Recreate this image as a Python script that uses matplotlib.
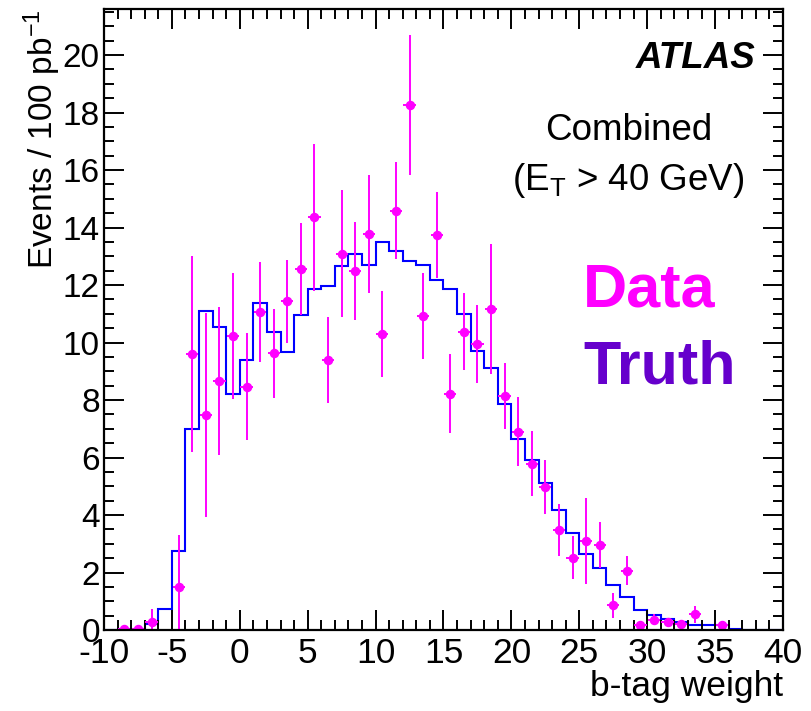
import numpy as np
import matplotlib
matplotlib.use("Agg")
import matplotlib.pyplot as plt
from matplotlib.ticker import MultipleLocator

plt.rcParams['font.family'] = ['Liberation Sans', 'DejaVu Sans']
plt.rcParams['mathtext.fontset'] = 'custom'
plt.rcParams['mathtext.rm'] = 'Liberation Sans'
plt.rcParams['mathtext.it'] = 'Liberation Sans:italic'
plt.rcParams['mathtext.bf'] = 'Liberation Sans:bold'
plt.rcParams['axes.unicode_minus'] = False

# b-tag weight binning: 1 unit bins from -10 to 40
bin_edges = np.arange(-10, 41, 1)

# truth (MC) histogram contents per bin
truth = [0.0, 0.03, 0.05, 0.22, 0.74, 2.76, 7.0, 11.09, 10.53, 8.2,
         9.4, 11.38, 10.36, 9.66, 10.96, 11.87, 11.96, 12.65, 13.09, 12.69,
         13.5, 13.17, 12.83, 12.71, 12.16, 11.85, 11.0, 9.71, 9.13, 7.87,
         6.65, 5.9, 5.13, 4.18, 3.39, 2.66, 2.16, 1.56, 1.15, 0.68,
         0.51, 0.39, 0.27, 0.16, 0.16, 0.16, 0.04, 0.0, 0.0, 0.0]

# data per bin (nan = empty bin, not drawn) and its stat. error
nan = np.nan
data = [nan, 0.05, 0.05, 0.27, nan, 1.5, 9.6, 7.47, 8.67, 10.22,
        8.47, 11.06, 9.63, 11.43, 12.57, 14.35, 9.4, 13.09, 12.48, 13.77,
        10.3, 14.59, 18.26, 10.92, 13.73, 8.22, 10.38, 9.95, 11.17, 8.14,
        6.9, 5.79, 4.97, 3.48, 2.52, 3.1, 2.95, 0.86, 2.06, 0.16,
        0.36, 0.27, 0.22, 0.54, nan, 0.16, nan, nan, nan, nan]
data_err = [0.0, 0.1, 0.1, 0.47, 0.0, 1.8, 3.4, 3.55, 2.57, 2.2,
            1.85, 1.74, 1.55, 1.45, 1.6, 2.55, 1.5, 2.2, 1.7, 2.05,
            1.5, 1.7, 2.45, 1.5, 1.5, 1.37, 1.33, 1.37, 2.25, 1.15,
            1.2, 1.12, 0.95, 0.9, 0.75, 1.5, 0.8, 0.44, 0.5, 0.12,
            0.2, 0.15, 0.1, 0.28, 0.0, 0.1, 0.0, 0.0, 0.0, 0.0]

centers = 0.5 * (bin_edges[:-1] + bin_edges[1:])
data = np.array(data)
data_err = np.array(data_err)
ok = ~np.isnan(data)

fig = plt.figure(figsize=(8.11, 7.11), dpi=100)
ax = fig.add_axes([0.1282, 0.1139, 0.8373, 0.8734])

ax.stairs(truth, bin_edges, color='#0000ff', lw=1.5, baseline=0)
ax.errorbar(centers[ok], data[ok], yerr=data_err[ok], xerr=0.45,
            fmt='o', color='#ff00ff', ms=5.8, elinewidth=1.4, capsize=0)

ax.set_xlim(-10, 40)
ax.set_ylim(0, 21.6)
ax.xaxis.set_major_locator(MultipleLocator(5))
ax.xaxis.set_minor_locator(MultipleLocator(1))
ax.yaxis.set_major_locator(MultipleLocator(2))
ax.yaxis.set_minor_locator(MultipleLocator(0.5))
ax.tick_params(which='both', direction='in', top=True, right=True, width=1.4)
ax.tick_params(which='major', length=14.5)
ax.tick_params(which='minor', length=7.5)
ax.tick_params(axis='x', labelsize=25.5, pad=5)
ax.tick_params(axis='y', labelsize=24, pad=3)
for sp in ax.spines.values():
    sp.set_linewidth(1.6)

ax.set_xlabel('b-tag weight', fontsize=25.5, loc='right', labelpad=0)
ax.set_ylabel('Events / 100 pb$^{\\mathrm{-1}}$', fontsize=24, loc='top', labelpad=0)

ax.text(0.9588, 0.9045, 'ATLAS', transform=ax.transAxes, ha='right', va='baseline',
        fontsize=26.5, fontweight='bold', fontstyle='italic')
ax.text(0.7725, 0.789, 'Combined', transform=ax.transAxes, ha='center', va='baseline',
        fontsize=26.5)
ax.text(0.7725, 0.7085, '(E$_{\\mathrm{T}}$ > 40 GeV)', transform=ax.transAxes,
        ha='center', va='baseline', fontsize=26.5)
ax.text(0.7054, 0.5206, 'Data', transform=ax.transAxes, ha='left', va='baseline',
        fontsize=44, fontweight='bold', color='#ff00ff')
ax.text(0.7054, 0.3973, 'Truth', transform=ax.transAxes, ha='left', va='baseline',
        fontsize=44, fontweight='bold', color='#6600cc')

fig.savefig('out.png', dpi=100)
